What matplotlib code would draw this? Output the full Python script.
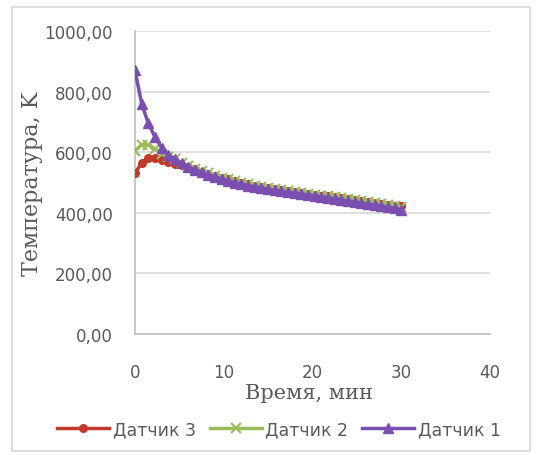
import matplotlib
matplotlib.use("Agg")
import matplotlib.pyplot as plt
from matplotlib.patches import Rectangle

time_min = [0, 0.75, 1.5, 2.25, 3, 3.75, 4.5, 5.25, 6, 6.75, 7.5, 8.25, 9, 9.75,
            10.5, 11.25, 12, 12.75, 13.5, 14.25, 15, 15.75, 16.5, 17.25, 18, 18.75,
            19.5, 20.25, 21, 21.75, 22.5, 23.25, 24, 24.75, 25.5, 26.25, 27, 27.75,
            28.5, 29.25, 30]

sensor1 = [870, 760, 695, 650, 615, 592, 576, 563, 552, 542, 534, 526, 519, 512,
           506, 500, 495, 490, 486, 482, 478, 474, 471, 468, 465, 462, 459, 456,
           453, 450, 446, 443, 439, 436, 432, 429, 425, 422, 418, 415, 410]
sensor2 = [605, 625, 625, 610, 595, 585, 576, 566, 556, 546, 538, 530, 523, 516,
           510, 504, 499, 494, 490, 486, 482, 478, 475, 472, 469, 466, 463, 460,
           457, 454, 451, 448, 445, 442, 439, 436, 433, 430, 427, 424, 420]
sensor3 = [530, 565, 580, 580, 575, 568, 562, 557, 550, 543, 536, 529, 522, 516,
           510, 504, 499, 494, 490, 486, 482, 478, 475, 472, 469, 466, 463, 460,
           457, 454, 451, 448, 445, 442, 439, 436, 433, 430, 427, 424, 421]

y_ticks = [0, 200, 400, 600, 800, 1000]
y_tick_labels = ["0,00", "200,00", "400,00", "600,00", "800,00", "1000,00"]
x_ticks = [0, 10, 20, 30, 40]

fig = plt.figure(figsize=(5.41, 4.56), dpi=100)
fig.patch.set_facecolor("white")
fig.patches.append(Rectangle((12/541, 4/456), 518/541, 444/456, transform=fig.transFigure,
                             fill=False, edgecolor="#d9d9d9", linewidth=1.2))

ax = fig.add_axes([135/541, (456-335)/456, 355/541, (335-32)/456])
ax.set_xlim(0, 40)
ax.set_ylim(0, 1000)
ax.set_yticks(y_ticks)
ax.set_yticklabels(y_tick_labels)
ax.set_xticks(x_ticks)
ax.tick_params(length=0, labelsize=12, colors="#595959")
ax.tick_params(axis="y", pad=16)
ax.tick_params(axis="x", pad=21)
for s in ["top", "right"]:
    ax.spines[s].set_visible(False)
for s in ["left", "bottom"]:
    ax.spines[s].set_color("#bfbfbf")
    ax.spines[s].set_linewidth(1.2)
ax.yaxis.grid(True, color="#d9d9d9", linewidth=1.2)
ax.set_axisbelow(True)

ax.plot(time_min, sensor3, color="#c0392b", marker="o", markersize=5.5, linewidth=2.5,
        label="Датчик 3", zorder=3)
ax.plot(time_min, sensor2, color="#9bbb59", marker="x", markersize=6.5, markeredgewidth=1.5,
        linewidth=2.5, label="Датчик 2", zorder=4)
ax.plot(time_min, sensor1, color="#7b4fb0", marker="^", markersize=7, linewidth=2.5,
        label="Датчик 1", zorder=5)

ax.set_ylabel("Температура, K", family="DejaVu Serif", fontsize=16, color="#595959")
ax.set_xlabel("Время, мин", family="DejaVu Serif", fontsize=15, color="#595959")
ax.yaxis.set_label_coords((43-135)/355, 0.5)
ax.xaxis.set_label_coords(0.49, (335-384)/303)

leg = fig.legend(loc="center", bbox_to_anchor=(279/541, (456-430)/456), ncol=3, frameon=False,
                 fontsize=12.5, handlelength=3, columnspacing=0.8, handletextpad=0.2)
for t in leg.get_texts():
    t.set_color("#595959")

fig.savefig("out.png", dpi=100, facecolor="white")
